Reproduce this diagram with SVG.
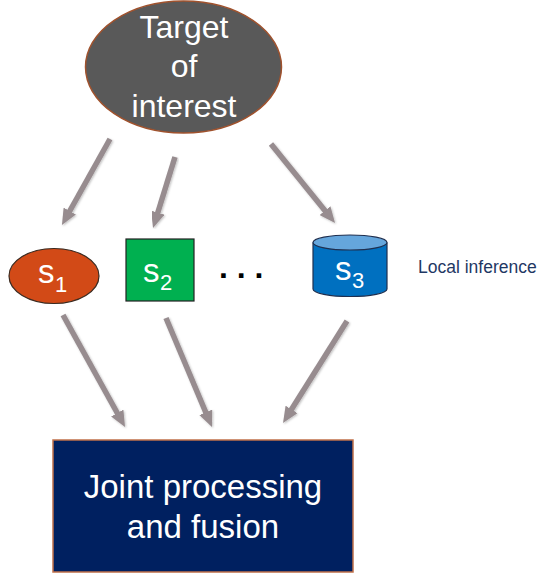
<svg xmlns="http://www.w3.org/2000/svg" width="545" height="575" viewBox="0 0 545 575">
<style>
text { font-family: "Liberation Sans", Arial, sans-serif; }
.w { fill: #ffffff; }
.big { font-size: 32px; }
.s { font-size: 33px; }
.sub { font-size: 22px; }
.arrow { stroke: #978C8F; stroke-width: 5.5; fill: none; marker-end: url(#head); filter: url(#sh); }
</style>
<defs>
<marker id="head" markerUnits="userSpaceOnUse" viewBox="0 0 16 14" markerWidth="16" markerHeight="14" refX="4" refY="7" orient="auto">
<path d="M0,0 L16,7 L0,14 z" fill="#978C8F"/>
</marker>
<filter id="sh" x="-20%" y="-20%" width="140%" height="140%">
<feDropShadow dx="1" dy="1" stdDeviation="1" flood-color="#000" flood-opacity="0.25"/>
</filter>
</defs>

<g id="connectors">
<line class="arrow" x1="110" y1="139" x2="67.8" y2="214.5"/>
<line class="arrow" x1="175" y1="157" x2="156.6" y2="216.5"/>
<line class="arrow" x1="271" y1="144" x2="327.5" y2="213.7"/>
<line class="arrow" x1="63" y1="315" x2="119.2" y2="416.5"/>
<line class="arrow" x1="166" y1="318" x2="207.3" y2="416"/>
<line class="arrow" x1="347" y1="321" x2="289.4" y2="412.8"/>
</g>

<g id="target">
<ellipse cx="183.5" cy="67" rx="98" ry="66" fill="#595959" stroke="#A0522D" stroke-width="1.5"/>
<text class="w big" x="184" y="38" text-anchor="middle">Target</text>
<text class="w big" x="184" y="77" text-anchor="middle">of</text>
<text class="w big" x="184" y="117" text-anchor="middle">interest</text>
</g>

<g id="s1">
<ellipse cx="54" cy="276" rx="45" ry="27.5" fill="#D24A17" stroke="#3A2A20" stroke-width="1.2"/>
<text class="w s" x="38" y="283">s</text>
<text class="w sub" x="55" y="292">1</text>
</g>

<g id="s2">
<rect x="126" y="239" width="68" height="62" fill="#00B050" stroke="#222222" stroke-width="1.2"/>
<text class="w s" x="143" y="282">s</text>
<text class="w sub" x="160" y="290">2</text>
</g>

<g id="dots">
<text x="219" y="278" font-size="32" font-weight="bold" fill="#000000">. . .</text>
</g>

<g id="s3">
<path d="M313,242.5 L313,289 A37,7.5 0 0 0 387,289 L387,242.5" fill="#0070C0" stroke="#1F2F4F" stroke-width="1.2"/>
<ellipse cx="350" cy="242.5" rx="37" ry="7.5" fill="#65A6DC" stroke="#1F2F4F" stroke-width="1.2"/>
<text class="w s" x="335" y="280">s</text>
<text class="w sub" x="352" y="288">3</text>
</g>

<g id="local">
<text x="418" y="273" font-size="17.5" fill="#1F3864">Local inference</text>
</g>

<g id="joint">
<rect x="53" y="440" width="300" height="132" fill="#002060" stroke="#C0704A" stroke-width="1.5"/>
<text class="w" x="203" y="498" font-size="33" text-anchor="middle">Joint processing</text>
<text class="w" x="203" y="538" font-size="33" text-anchor="middle">and fusion</text>
</g>
</svg>
